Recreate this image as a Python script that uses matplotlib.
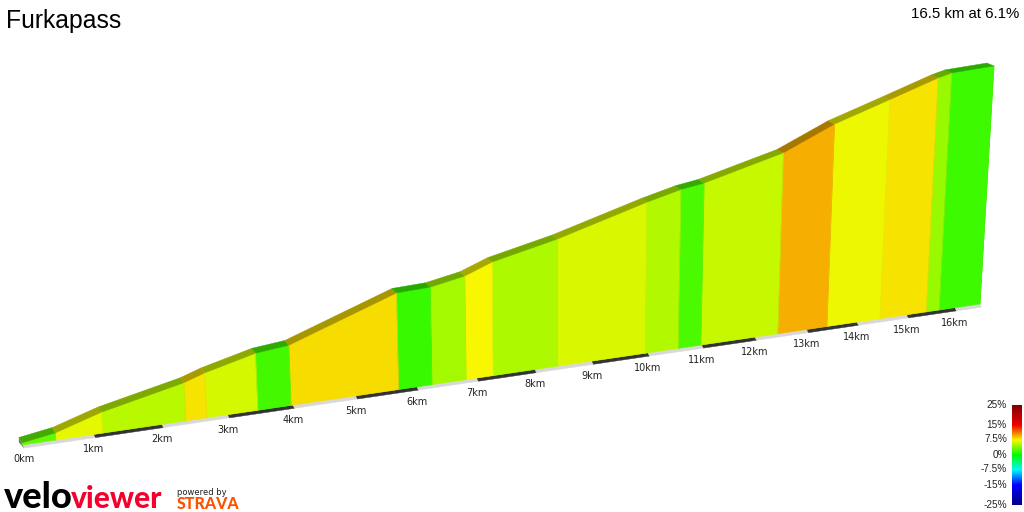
import numpy as np
import matplotlib
matplotlib.use('Agg')
import matplotlib.pyplot as plt
from matplotlib.colors import LinearSegmentedColormap, Normalize

# climb profile, one row per section end (first value is the start of the climb)
seg_km = [0, 0.47, 1.13, 2.36, 2.68, 3.46, 3.97, 5.70, 6.25, 6.82, 7.28, 8.39,
          9.95, 10.56, 10.98, 12.44, 13.40, 14.46, 15.40, 15.67, 16.5]
seg_elev = [6, 21, 63, 118, 140, 181, 193, 322, 329, 354, 392, 449,
            552, 588, 605, 697, 796, 881, 960, 978, 1000]
seg_grad = [3.0, 7.0, 5.5, 8.2, 6.3, 2.0, 8.3, 1.6, 5.0, 7.6,
            5.2, 6.6, 5.3, 2.2, 6.0, 9.7, 7.1, 8.1, 4.6, 1.8]

# distance axis: where each km falls on screen (it shrinks with the perspective)
axis_km = [0, 1, 2, 3, 4, 5, 6, 7, 8, 9, 10, 11, 12, 13, 14, 15, 16, 16.5]
axis_x = [22, 94, 162, 228, 293, 356, 417, 477, 535, 592, 648, 702, 755, 807, 857, 907, 955, 980]
km_labels = [f'{k}km' for k in range(17)]

legend_vals = [25, 15, 7.5, 0, -7.5, -15, -25]
legend_text = ['25%', '15%', '7.5%', '0%', '-7.5%', '-15%', '-25%']

cmap_vals = [-25, -15, -7.5, 0, 7.5, 15, 25]
cmap_cols = ['#000080', '#0000ff', '#00f8f8', '#00fa00', '#f8f800', '#f00000', '#800000']
norm = Normalize(-25, 25)
cmap = LinearSegmentedColormap.from_list('grad', [(norm(v), c) for v, c in zip(cmap_vals, cmap_cols)])


def base_x(km):
    return np.interp(km, axis_km, axis_x)


def base_y(km):
    return 445 - 0.1472 * (base_x(km) - 22)


def project(km, elev):
    # front wall top for a point on the profile
    x = base_x(km)
    h = np.asarray(elev) * 0.34 * (1 - 0.3 * (x - 22) / 958)
    return x + h * (x - 557) / 7190, base_y(km) - h


def back(x, y):
    # same point on the far side of the ribbon
    t = (x - 22) / 958
    return x - 3 - 4 * t, y - 5.5 + 2.5 * t


plt.rcParams['font.family'] = ['Liberation Sans', 'DejaVu Sans']

fig = plt.figure(figsize=(10.24, 5.12), dpi=100)
ax = fig.add_axes([0, 0, 1, 1])
ax.set_xlim(0, 1024)
ax.set_ylim(512, 0)
ax.axis('off')

# white/dark ribbon under the wall
for i in range(len(axis_km) - 1):
    x0, x1 = axis_x[i], axis_x[i + 1]
    y0, y1 = base_y(axis_km[i]), base_y(axis_km[i + 1])
    col = '#333333' if i % 2 == 1 and i < 16 else '#d8d8d8'
    ax.fill([x0, x1, x1 + 1.5, x0 + 1.5], [y0, y1, y1 + 3.2, y0 + 3.2], color=col, lw=0.3, zorder=2)

# left end cap
tx, ty = project(0, seg_elev[0])
bx, by = back(tx, ty)
ax.fill([bx, tx, base_x(0) + 2, bx], [by, ty, base_y(0) + 3, by + 5], color='#777777', lw=0, zorder=2)

# walls and top faces
for i, g in enumerate(seg_grad):
    col = np.array(cmap(norm(g))[:3])
    xt0, yt0 = project(seg_km[i], seg_elev[i])
    xt1, yt1 = project(seg_km[i + 1], seg_elev[i + 1])
    xb0, yb0 = base_x(seg_km[i]), base_y(seg_km[i])
    xb1, yb1 = base_x(seg_km[i + 1]), base_y(seg_km[i + 1])
    ax.fill([xb0, xb1, xt1, xt0], [yb0, yb1, yt1, yt0], color=col, lw=0.4, zorder=3)
    ax.plot([xb1, xt1], [yb1, yt1], color=col * 0.95, lw=0.5, zorder=4)
    bx0, by0 = back(xt0, yt0)
    bx1, by1 = back(xt1, yt1)
    ax.fill([xt0, xt1, bx1, bx0], [yt0, yt1, by1, by0], color=col * 0.68, lw=0.3, zorder=3)

for k, lab in zip(axis_km, km_labels):
    dy = 14 if k == 0 else 15
    dx = 2 if k == 0 else 0
    ax.text(base_x(k) + dx, base_y(k) + dy, lab, family='DejaVu Sans', fontsize=7,
            color='#222222', ha='center', va='center')

ax.text(6, 28, 'Furkapass', fontsize=17.8, color='black', ha='left', va='baseline')
ax.text(1019, 18, '16.5 km at 6.1%', fontsize=10.8, color='black', ha='right', va='baseline')

# gradient legend
bar = np.linspace(25, -25, 200).reshape(-1, 1)
ax.imshow(bar, cmap=cmap, norm=norm, extent=[1012, 1022, 505, 405], aspect='auto', zorder=3)
ax.set_xlim(0, 1024)
ax.set_ylim(512, 0)
for v, lab in zip(legend_vals, legend_text):
    ax.text(1007, 455 - 2 * v - 0.5, lab, fontsize=7.2, color='#222222', ha='right', va='center')

# logos
ax.text(4, 508, 'velo', family='Lato', weight='black', fontsize=26, color='black', ha='left', va='baseline')
ax.text(71, 508, 'viewer', family='Lato', weight='black', fontsize=21.5, color='#f5002d', ha='left', va='baseline')
ax.text(177, 495, 'powered by', family='DejaVu Sans', fontsize=6, color='#222222', ha='left', va='baseline')
ax.text(177, 509, 'STRAVA', family='Lato', weight='black', fontsize=11.5, color='#fc5200', ha='left', va='baseline')

fig.savefig('out.png', dpi=100)
